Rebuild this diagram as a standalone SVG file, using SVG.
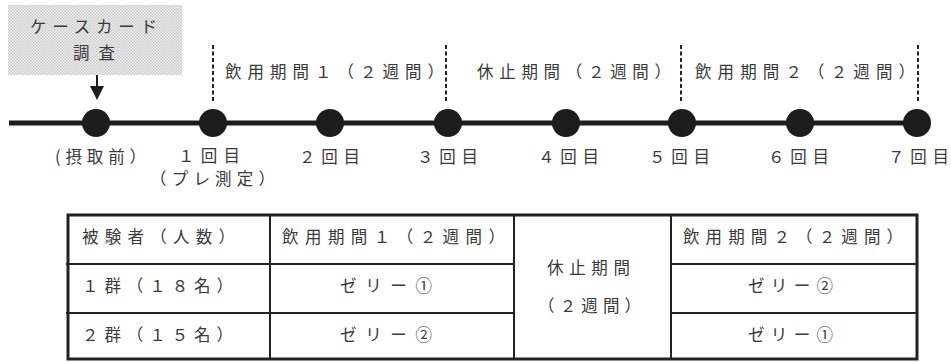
<svg xmlns="http://www.w3.org/2000/svg" width="951" height="362" viewBox="0 0 951 362">
<defs>
<pattern id="dots" width="3" height="3" patternUnits="userSpaceOnUse">
<rect width="3" height="3" fill="#f2f2f2"/>
<rect x="0" y="0" width="1.5" height="1.5" fill="#c8c8c8"/>
<rect x="1.5" y="1.5" width="1.5" height="1.5" fill="#c8c8c8"/>
</pattern>
</defs>
<style>
text{font-family:"Noto Sans CJK JP","Liberation Serif",sans-serif;font-size:16.5px;font-weight:400;fill:#3a3a3a}
.node{fill:#1c1c1c}
.dash{stroke:#222;stroke-width:2;stroke-dasharray:4 2.5;fill:none}
.tbl{stroke:#222;fill:none}
</style>
<rect width="951" height="362" fill="#fff"/>

<g id="case-card">
<rect x="8" y="5" width="174" height="70" fill="url(#dots)"/>
<text x="30" y="33" textLength="127" lengthAdjust="spacing">ケースカード</text>
<text x="73" y="59" textLength="42" lengthAdjust="spacing">調査</text>
</g>

<g id="connectors">
<line x1="9" y1="123" x2="918" y2="123" stroke="#1c1c1c" stroke-width="5"/>
<line x1="97" y1="75" x2="97" y2="88" stroke="#1c1c1c" stroke-width="2"/>
<polygon points="90,86 104,86 97,100" fill="#1c1c1c"/>
<line class="dash" x1="213" y1="45" x2="213" y2="101"/>
<line class="dash" x1="446" y1="45" x2="446" y2="101"/>
<line class="dash" x1="681" y1="45" x2="681" y2="101"/>
<line class="dash" x1="918" y1="45" x2="918" y2="101"/>
</g>

<g id="periods">
<text x="225" y="78" textLength="219" lengthAdjust="spacing">飲用期間１（２週間）</text>
<text x="477" y="78" textLength="194" lengthAdjust="spacing">休止期間（２週間）</text>
<text x="695" y="78" textLength="220" lengthAdjust="spacing">飲用期間２（２週間）</text>
</g>

<g id="t0"><circle class="node" cx="96" cy="123" r="14"/><text x="55" y="163" textLength="91" lengthAdjust="spacing">(摂取前）</text></g>
<g id="t1"><circle class="node" cx="213" cy="123" r="14"/><text x="178" y="162" textLength="62" lengthAdjust="spacing">１回目</text><text x="150" y="185" textLength="125" lengthAdjust="spacing">（プレ測定）</text></g>
<g id="t2"><circle class="node" cx="330" cy="123" r="14"/><text x="299" y="163" textLength="61" lengthAdjust="spacing">２回目</text></g>
<g id="t3"><circle class="node" cx="448" cy="123" r="14"/><text x="417" y="163" textLength="61" lengthAdjust="spacing">３回目</text></g>
<g id="t4"><circle class="node" cx="566" cy="123" r="14"/><text x="538" y="163" textLength="61" lengthAdjust="spacing">４回目</text></g>
<g id="t5"><circle class="node" cx="682" cy="123" r="14"/><text x="649" y="163" textLength="61" lengthAdjust="spacing">５回目</text></g>
<g id="t6"><circle class="node" cx="800" cy="123" r="14"/><text x="768" y="163" textLength="61" lengthAdjust="spacing">６回目</text></g>
<g id="t7"><circle class="node" cx="917" cy="123" r="14"/><text x="888" y="163" textLength="61" lengthAdjust="spacing">７回目</text></g>

<g id="table">
<rect class="tbl" x="68" y="215" width="849" height="144" stroke-width="3"/>
<g class="tbl" stroke-width="2">
<line x1="66" y1="264" x2="514" y2="264"/>
<line x1="66" y1="313" x2="514" y2="313"/>
<line x1="671" y1="264" x2="917" y2="264"/>
<line x1="671" y1="313" x2="917" y2="313"/>
<line x1="270" y1="215" x2="270" y2="359"/>
<line x1="514" y1="215" x2="514" y2="359"/>
<line x1="671" y1="215" x2="671" y2="359"/>
</g>
<text x="82" y="243" textLength="153" lengthAdjust="spacing">被験者（人数）</text>
<text x="82" y="292" textLength="151" lengthAdjust="spacing">１群（１８名）</text>
<text x="82" y="341" textLength="151" lengthAdjust="spacing">２群（１５名）</text>
<text x="282" y="243" textLength="223" lengthAdjust="spacing">飲用期間１（２週間）</text>
<text x="340" y="292" textLength="92" lengthAdjust="spacing">ゼリー①</text>
<text x="340" y="341" textLength="92" lengthAdjust="spacing">ゼリー②</text>
<text x="547" y="274" textLength="83" lengthAdjust="spacing">休止期間</text>
<text x="538" y="312" textLength="103" lengthAdjust="spacing">（２週間）</text>
<text x="683" y="243" textLength="220" lengthAdjust="spacing">飲用期間２（２週間）</text>
<text x="748" y="292" textLength="85" lengthAdjust="spacing">ゼリー②</text>
<text x="748" y="341" textLength="85" lengthAdjust="spacing">ゼリー①</text>
</g>
</svg>
